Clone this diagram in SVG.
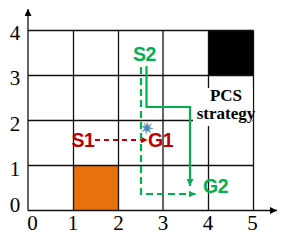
<svg xmlns="http://www.w3.org/2000/svg" width="283" height="242" viewBox="0 0 283 242">
<style>
.grid{stroke:#111;stroke-width:1.3;fill:none}
.tick{font-family:"Liberation Serif",serif;font-size:21px;fill:#000;text-anchor:middle}
.lbl{font-family:"Liberation Sans",sans-serif;font-weight:bold;font-size:19.5px;letter-spacing:-0.4px}
.red{fill:#C00000}
.grn{fill:#00B050}
.pcs{font-family:"Liberation Serif",serif;font-weight:bold;font-size:17px;fill:#000;text-anchor:middle}
</style>
<defs>
<marker id="ar" viewBox="0 0 10 10" refX="10" refY="5" markerWidth="8" markerHeight="7" markerUnits="userSpaceOnUse" orient="auto"><path d="M0,0L10,5L0,10z" fill="#000"/></marker>
<marker id="ag" viewBox="0 0 10 10" refX="10" refY="5" markerWidth="7" markerHeight="7" markerUnits="userSpaceOnUse" orient="auto"><path d="M0,0L10,5L0,10z" fill="#00B050"/></marker>
<marker id="arr" viewBox="0 0 10 10" refX="10" refY="5" markerWidth="7" markerHeight="7" markerUnits="userSpaceOnUse" orient="auto"><path d="M0,0L10,5L0,10z" fill="#C00000"/></marker>
</defs>
<rect width="283" height="242" fill="#fff"/>
<g id="cells">
<rect id="orange-cell" x="73.5" y="165.5" width="45" height="45" fill="#E8710E"/>
<rect id="black-cell" x="208.5" y="30.5" width="45" height="45" fill="#000"/>
</g>
<g id="grid" class="grid">
<path d="M28,30.5H253.5M28,75.5H253.5M28,120.5H253.5M28,165.5H253.5"/>
<path d="M73.5,30.5V210.5M118.5,30.5V210.5M163,30.5V210.5M208.5,30.5V210.5M253.5,30.5V210.5"/>
</g>
<g id="axes" class="grid">
<path d="M28,210.5H277" marker-end="url(#ar)"/>
<path d="M28,210.5V9" marker-end="url(#ar)"/>
</g>
<g id="ticks">
<text class="tick" x="15" y="40">4</text>
<text class="tick" x="15" y="85">3</text>
<text class="tick" x="15" y="131">2</text>
<text class="tick" x="15" y="176">1</text>
<text class="tick" x="15" y="212">0</text>
<text class="tick" x="32.5" y="230">0</text>
<text class="tick" x="73" y="230">1</text>
<text class="tick" x="118.5" y="230">2</text>
<text class="tick" x="163" y="230">3</text>
<text class="tick" x="208" y="230">4</text>
<text class="tick" x="252.5" y="230">5</text>
</g>
<g id="pcs">
<rect x="193" y="88" width="59.5" height="38" fill="#fff"/>
<text class="pcs" x="226" y="101">PCS</text>
<text class="pcs" x="226" y="119">strategy</text>
</g>
<g id="connectors" fill="none">
<path d="M95,140H147.5" stroke="#C00000" stroke-width="2" stroke-dasharray="5,4" marker-end="url(#arr)"/>
<path d="M141,67V194H195.5" stroke="#00B050" stroke-width="2.2" stroke-dasharray="7,4" marker-end="url(#ag)"/>
<path d="M146.5,66V107H190V186" stroke="#00B050" stroke-width="2.2" marker-end="url(#ag)"/>
</g>
<g id="S2"><text class="lbl grn" x="133" y="61">S2</text></g>
<g id="G2"><text class="lbl grn" x="203" y="193">G2</text></g>
<g id="S1"><text class="lbl red" x="71.5" y="147">S1</text></g>
<g id="G1"><text class="lbl red" x="148" y="147">G1</text></g>
<g id="star" transform="translate(147,128)">
<polygon points="0,-7 1.8,-2.5 5.5,-5.5 2.8,-0.8 7,0.5 2.5,1.8 4.5,6 0.6,3 -1,7 -1.8,2.6 -6,4.5 -2.8,0.5 -6.5,-2.5 -2.2,-2 -3.5,-6.5 -0.6,-2.8" fill="#8C9AA6"/>
<polygon points="0,-3.8 1,-1.2 3.5,-1.5 1.5,0.6 2.4,3.2 0,1.7 -2.4,3.2 -1.5,0.6 -3.5,-1.5 -1,-1.2" fill="#1E8FE0"/>
</g>
</svg>
